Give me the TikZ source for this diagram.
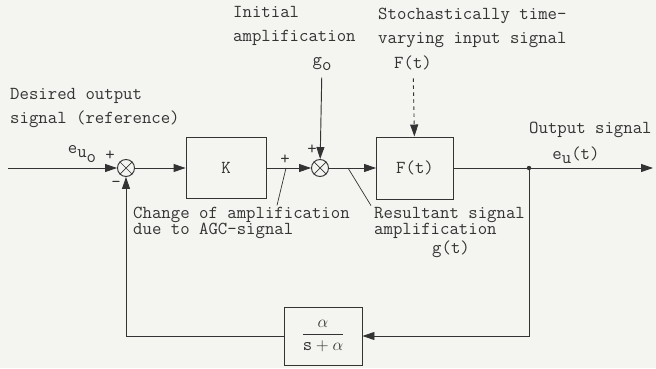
\documentclass[tikz,border=0pt]{standalone}
\usepackage{fontspec}
\usepackage{tikz}
\usetikzlibrary{
  positioning,
  arrows.meta,
  calc
}
\definecolor{inkgray}{HTML}{333333}
\definecolor{paper}{HTML}{F4F4F1}

\begin{document}
\begin{tikzpicture}[
  x=0.03cm, y=-0.03cm,
  every node/.style={font=\ttfamily\fontsize{15.6}{20.5}\selectfont, text=inkgray, inner sep=0pt},
  block/.style 2 args={draw=inkgray, line width=0.8pt, minimum width=#1, minimum height=#2},
  sumnode/.style={circle, draw=inkgray, line width=0.8pt, minimum size=17*\px},
  sig/.style={draw=inkgray, line width=0.8pt, -{Triangle[length=0.36cm,width=0.24cm]}},
  leader/.style={draw=inkgray, line width=0.6pt},
  tight/.style={anchor=base west}
]
% Pixel helper
\def\px{0.03cm}

% Paper
\fill[paper] (0,0) rectangle (656,368);
\useasboundingbox (0,0) rectangle (656,368);

% Forward path
\coordinate (in) at (8,168);
\node[sumnode] (s1) at (126,168) {};
\node[block={80*\px}{61*\px}] (k) at (226,168) {K};
\node[sumnode] (s2) at (320,168) {};
\node[block={77*\px}{62*\px}] (f) at (415,168) {F(t)};
\coordinate (br) at (529,168);
\coordinate (out) at (653,168);

% Feedback path
\node[block={78*\px}{58*\px}] (fb) at (323,336)
  {$\displaystyle\frac{\alpha}{\mathtt{s}+\alpha}$};

% Crosses in the summing points
\foreach \s in {s1,s2}
  \draw[inkgray, line width=0.6pt] (\s.45) -- (\s.225) (\s.135) -- (\s.315);

% Top labels
\node[align=left, anchor=north west] (init) at (233,6) {Initial\\amplification};
\node (g0) at (322,64) {g\raisebox{-0.55ex}{o}};
\node[align=left, anchor=north west] (stoch) at (378,8) {Stochastically time-\\varying input signal};
\node (ft) at (413,63) {F(t)};
\node[align=left, anchor=north west] (des) at (10,88) {Desired output\\signal (reference)};
\node (eu0) at (82,154) {e\raisebox{-0.55ex}{u\raisebox{-0.6ex}{o}}};
\node[anchor=north west] (outl) at (529,122) {Output signal};
\node (eut) at (576,155) {e\raisebox{-0.55ex}{u}(t)};

% Signs
\node (p1) at (110,156) {+};
\node (m1) at (116,184) {-};
\node (p2) at (285,160) {+};
\node (p3) at (312,150) {+};

% Bottom labels
\node[tight] (chg1) at (133,218) {Change of amplification};
\node[tight] (chg2) at (133,234.5) {due to AGC-signal};
\node[tight] (res1) at (374,218) {Resultant signal};
\node[tight] (res2) at (374,234.5) {amplification};
\node[tight] (res3) at (432,253) {g(t)};

% Signal lines
\draw[sig] (in) -- (s1);
\draw[sig] (s1) -- (k);
\draw[sig] (k) -- (s2);
\draw[sig] (s2) -- (f);
\draw[sig] (f) -- (out);
\draw[sig] (br) |- (fb);
\draw[sig] (fb) -| (s1);
\draw[sig, shorten <=7*\px] (g0) -- (s2);
\draw[sig, dashed, shorten <=8*\px] (ft) -- (f);
\fill[inkgray] (br) circle (2.2*\px);

% Leaders
\draw[leader] (286,168) -- ($(chg1.north west)+(144,-1)$);
\draw[leader] (348,168) -- ($(res1.north west)+(-3,-1)$);

\end{tikzpicture}
\end{document}
